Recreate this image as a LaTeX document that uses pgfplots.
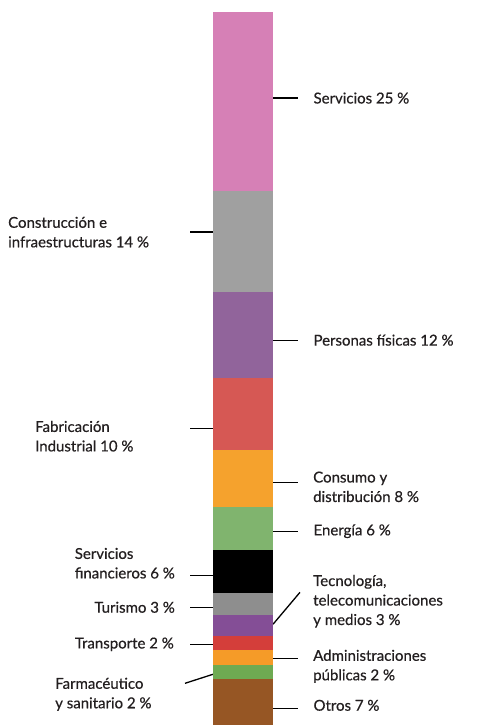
\documentclass[border=0pt]{standalone}
\usepackage{fontspec}
\setmainfont{Lato}
\newfontfamily\labfont[FakeBold=0.6]{Lato}
\usepackage{pgfplots}
\pgfplotsset{compat=1.18}
\definecolor{cpink}{RGB}{214,128,182}
\definecolor{cgrayA}{RGB}{160,160,160}
\definecolor{cpurpA}{RGB}{145,100,155}
\definecolor{credA}{RGB}{214,88,84}
\definecolor{corgA}{RGB}{245,162,45}
\definecolor{cgrnA}{RGB}{128,180,110}
\definecolor{cgrayB}{RGB}{142,142,142}
\definecolor{cpurpB}{RGB}{132,78,150}
\definecolor{credB}{RGB}{212,62,58}
\definecolor{corgB}{RGB}{245,155,40}
\definecolor{cgrnB}{RGB}{110,170,82}
\definecolor{cbrown}{RGB}{150,86,36}
\definecolor{ctxt}{RGB}{35,31,32}

\begin{document}
\begin{tikzpicture}[font=\labfont\fontsize{15bp}{19.5bp}\selectfont, every node/.style={text=ctxt}]
\path[use as bounding box] (0,0) rectangle (478bp,725bp);
\begin{axis}[
  at={(213bp,0)}, anchor=south west,
  scale only axis, width=60bp, height=725bp,
  xmin=-0.5, xmax=0.5, ymin=0.6, ymax=101.67,
  axis lines=none, ticks=none, clip=false,
  ybar stacked, bar width=60bp,
  every axis plot/.append style={draw=none},
]
% bottom to top
\addplot[fill=cbrown] coordinates {(0,7)};   % Otros
\addplot[fill=cgrnB] coordinates {(0,2)};    % Farmaceutico
\addplot[fill=corgB] coordinates {(0,2)};    % Administraciones
\addplot[fill=credB] coordinates {(0,2)};    % Transporte
\addplot[fill=cpurpB] coordinates {(0,3)};   % Tecnologia
\addplot[fill=cgrayB] coordinates {(0,3)};   % Turismo
\addplot[fill=black] coordinates {(0,6)};    % Serv. financieros
\addplot[fill=cgrnA] coordinates {(0,6)};    % Energia
\addplot[fill=corgA] coordinates {(0,8)};    % Consumo
\addplot[fill=credA] coordinates {(0,10)};   % Fabricacion
\addplot[fill=cpurpA] coordinates {(0,12)};  % Personas fisicas
\addplot[fill=cgrayA] coordinates {(0,14)};  % Construccion
\addplot[fill=cpink] coordinates {(0,25)};   % Servicios

% right-hand labels
\draw[line width=1.3bp] (axis cs:0.5,88.0) -- (axis cs:0.917,88.0);
\node[anchor=west] at (axis cs:1.117,88.0) {Servicios 25 \%};
\draw[line width=1.3bp] (axis cs:0.5,54.25) -- (axis cs:0.917,54.25);
\node[anchor=west] at (axis cs:1.117,54.25) {Personas físicas 12 \%};
\draw[line width=1.3bp] (axis cs:0.5,34.45) -- (axis cs:0.917,34.45);
\node[anchor=west, align=left, inner sep=0pt] at (axis cs:1.167,33.8) {Consumo y\\distribución 8 \%};
\draw[line width=1.3bp] (axis cs:0.5,27.61) -- (axis cs:0.917,27.61);
\node[anchor=west] at (axis cs:1.117,27.61) {Energía 6 \%};
\draw[line width=1.3bp] (axis cs:0.5,14.64) -- (axis cs:0.95,19.10);
\node[anchor=west, align=left, inner sep=0pt] at (axis cs:1.167,17.85) {Tecnología,\\telecomunicaciones\\y medios 3 \%};
\draw[line width=1.3bp] (axis cs:0.5,9.90) -- (axis cs:0.917,9.90);
\node[anchor=west, align=left, inner sep=0pt] at (axis cs:1.167,8.78) {Administraciones\\públicas 2 \%};
\draw[line width=1.3bp] (axis cs:0.5,2.93) -- (axis cs:0.917,2.93);
\node[anchor=west] at (axis cs:1.117,3.34) {Otros 7 \%};

% left-hand labels
\draw[line width=1.3bp] (axis cs:-0.883,69.31) -- (axis cs:-0.5,69.31);
\node[anchor=west, align=left, inner sep=0pt] at (axis cs:-3.917,69.31) {Construcción e\\infraestructuras 14 \%};
\draw[line width=1.3bp] (axis cs:-0.883,41.98) -- (axis cs:-0.5,41.98);
\node[anchor=west, align=left, inner sep=0pt] at (axis cs:-3.467,40.86) {Fabricación\\Industrial 10 \%};
\draw[line width=1.3bp] (axis cs:-0.883,21.47) -- (axis cs:-0.5,21.47);
\node[anchor=east, align=left, inner sep=0pt] at (axis cs:-1.133,23.15) {Servicios\\financieros 6 \%};
\draw[line width=1.3bp] (axis cs:-0.883,17.01) -- (axis cs:-0.5,17.01);
\node[anchor=east, inner sep=0pt] at (axis cs:-1.133,17.01) {Turismo 3 \%};
\draw[line width=1.3bp] (axis cs:-0.883,11.85) -- (axis cs:-0.5,11.85);
\node[anchor=east, inner sep=0pt] at (axis cs:-1.15,11.85) {Transporte 2 \%};
\draw[line width=1.3bp] (axis cs:-0.967,6.41) -- (axis cs:-0.5,7.67);
\node[anchor=west, align=left, inner sep=0pt] at (axis cs:-3.133,4.88) {Farmacéutico\\y sanitario 2 \%};
\end{axis}
\end{tikzpicture}
\end{document}
